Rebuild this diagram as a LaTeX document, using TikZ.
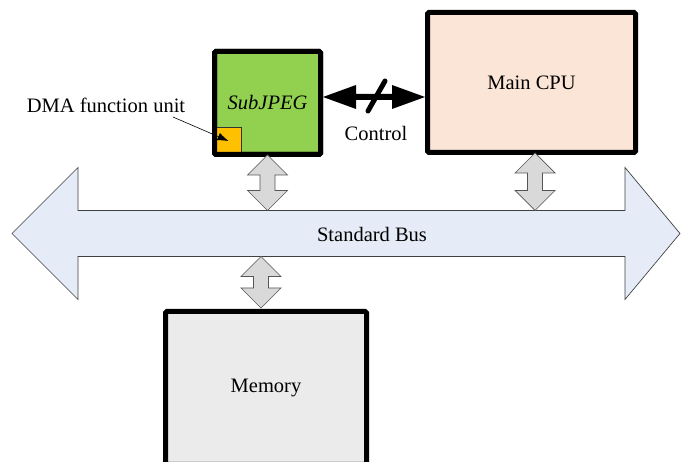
\documentclass[tikz,border=0pt]{standalone}
\usepackage{fontspec}
\setmainfont{Liberation Serif}
\usetikzlibrary{arrows.meta,calc}
\definecolor{subgreen}{HTML}{92D050}
\definecolor{dmaorange}{HTML}{FFC000}
\definecolor{cpupeach}{HTML}{FBE5D6}
\definecolor{memgray}{HTML}{EBEBEB}
\definecolor{busblue}{HTML}{E5ECF7}
\definecolor{arrgray}{HTML}{D9D9D9}
\definecolor{arredge}{HTML}{555555}
\tikzset{
  unitbox/.style={draw=black, line width=5pt, rounded corners=1.5pt, inner sep=0pt},
  blockarr/.style={fill=arrgray, draw=arredge, line width=0.7pt, line join=miter},
  busarr/.style={fill=busblue, draw=black!75, line width=0.7pt},
  lbl/.style={font=\fontsize{20.5}{24}\selectfont, inner sep=1pt},
}
\newcommand{\vbiarrow}[2]{%
  \path[blockarr] let \p1=(#1), \p2=(#2) in
    (\x1,\y1) -- (\x1+20pt,\y1-20pt) -- (\x1+7.5pt,\y1-20pt) -- (\x1+7.5pt,\y2+20pt)
    -- (\x1+20pt,\y2+20pt) -- (\x1,\y2) -- (\x1-20pt,\y2+20pt) -- (\x1-7.5pt,\y2+20pt)
    -- (\x1-7.5pt,\y1-20pt) -- (\x1-20pt,\y1-20pt) -- cycle;}
\begin{document}
\begin{tikzpicture}[x=1pt,y=-1pt]
\useasboundingbox (0,0) rectangle (681,462);
% Standard bus
\coordinate (bustop) at (0,210.5);
\coordinate (busbot) at (0,256.5);
\path[busarr] (12,233.5) -- (78,167.5) -- (78,210.5) -- (625,210.5) -- (625,167.5)
  -- (680,233.5) -- (625,299.5) -- (625,256.5) -- (78,256.5) -- (78,299.5) -- cycle;
\node[lbl] (bus) at (372,234) {Standard Bus};
% SubJPEG
\node[unitbox, fill=subgreen, minimum width=106pt, minimum height=103pt] (sub) at (267.5,103) {};
\node[draw=black!80, line width=0.6pt, fill=dmaorange, minimum width=26pt, minimum height=28pt, inner sep=0pt] (dma) at (228.5,141) {};
\node[unitbox, minimum width=106pt, minimum height=103pt, label={[lbl]center:\textit{SubJPEG}}] (subb) at (267.5,103) {};
% Main CPU
\node[unitbox, fill=cpupeach, minimum width=208pt, minimum height=140pt, lbl] (cpu) at (531.5,82.5) {Main CPU};
% Memory
\node[unitbox, fill=memgray, minimum width=201pt, minimum height=153pt, lbl] (mem) at (266,388) {Memory};
% DMA label
\node[lbl, anchor=center] (dmalbl) at (106,105) {DMA function unit};
\coordinate (dmastart) at (173,117);
\draw[line width=0.6pt, -{Latex[length=11pt,width=8pt]}] (dmastart) -- (dma.center);
% bus connectors
\vbiarrow{[yshift=2pt]sub.south}{sub.south |- bustop}
\vbiarrow{[xshift=3.5pt,yshift=2pt]cpu.south}{[xshift=3.5pt]cpu.south |- bustop}
\coordinate (memtop) at ([xshift=-5pt,yshift=1pt]mem.north);
\vbiarrow{memtop |- busbot}{memtop}
% Control arrow
\coordinate (ctlL) at (sub.east |- 0,97);
\coordinate (ctlR) at (cpu.west |- 0,97);
\fill[black] let \p1=(ctlL), \p2=(ctlR) in
  (\x1,\y1) -- (\x1+33pt,\y1+12pt) -- (\x1+33pt,\y1+3pt) -- (\x2-33pt,\y1+3pt) -- (\x2-33pt,\y1+12pt)
  -- (\x2,\y1) -- (\x2-33pt,\y1-12pt) -- (\x2-33pt,\y1-3pt) -- (\x1+33pt,\y1-3pt) -- (\x1+33pt,\y1-12pt) -- cycle;
\coordinate (slA) at (368,111);
\coordinate (slB) at (385,81);
\draw[line width=5pt, line cap=round] (slA) -- (slB);
\node[lbl] (ctl) at (376,133) {Control};
\end{tikzpicture}
\end{document}
